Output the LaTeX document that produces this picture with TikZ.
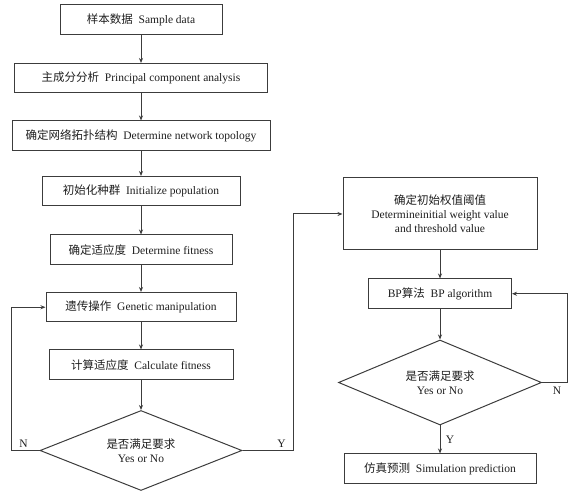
\documentclass[tikz,border=0pt]{standalone}
\usepackage{fontspec}
\setmainfont{Liberation Serif}
\newfontfamily\cjk{Noto Sans CJK SC}
\usetikzlibrary{arrows.meta, positioning, shapes.geometric}
\definecolor{cline}{HTML}{3C3C3C}
\definecolor{ctext}{HTML}{1E1E1E}
\newcommand{\zh}[1]{{\cjk #1}}
\tikzset{
  every picture/.style={font=\fontsize{11.5}{14}\selectfont, line width=1pt, text=ctext},
  box/.style={draw=cline, align=center, inner sep=3pt, minimum height=29.5pt, minimum width=#1},
  box/.default=180pt,
  check/.style={draw=cline, diamond, aspect=2.5, align=center, inner sep=0pt, minimum width=202pt, minimum height=80pt},
  arrow/.style={-{Stealth[length=5pt, width=4pt]}, draw=cline},
  lab/.style={font=\fontsize{11.5}{14}\selectfont},
}

\begin{document}
\begin{tikzpicture}
  \useasboundingbox (0,0) rectangle (582pt,-494pt);
  % left column
  \node[box=162pt] (sd) at (141pt,-19.75pt) {\zh{样本数据}\ \ Sample data};
  \node[box=253pt, below=28pt of sd] (pca) {\zh{主成分分析}\ \ Principal component analysis};
  \node[box=258pt, below=27pt of pca] (top) {\zh{确定网络拓扑结构}\ \ Determine network topology};
  \node[box=198pt, below=25pt of top] (ip) {\zh{初始化种群}\ \ Initialize population};
  \node[box=182pt, below=28pt of ip] (df) {\zh{确定适应度}\ \ Determine fitness};
  \node[box=190pt, below=27pt of df] (ga) {\zh{遗传操作}\ \ Genetic manipulation};
  \node[box=184pt, below=27pt of ga] (cf) {\zh{计算适应度}\ \ Calculate fitness};
  \node[check, below=30pt of cf] (ok1) {\zh{是否满足要求}\\Yes or No};
  % right column
  \node[box=194pt, minimum height=72pt] (iw) at (440pt,-214pt) {\zh{确定初始权值阈值}\\Determineinitial weight value\\and threshold value};
  \node[box=143pt, below=28pt of iw] (bp) {BP\zh{算法}\ \ BP algorithm};
  \node[check, minimum width=203pt, minimum height=85pt, below=30.5pt of bp] (ok2) {\zh{是否满足要求}\\Yes or No};
  \node[box=192pt, below=28pt of ok2] (sim) {\zh{仿真预测}\ \ Simulation prediction};

  \draw[arrow] (sd) -- (pca);
  \draw[arrow] (pca) -- (top);
  \draw[arrow] (top) -- (ip);
  \draw[arrow] (ip) -- (df);
  \draw[arrow] (df) -- (ga);
  \draw[arrow] (ga) -- (cf);
  \draw[arrow] (cf) -- (ok1);
  \draw[arrow] (ok1.west) -- ++(-28pt,0) node[lab, above right=-1pt and 4pt] {N} |- (ga.west);
  \draw[arrow] (ok1.east) -- ++(51pt,0) node[lab, above left=-1pt and 4pt] {Y} |- (iw.west);
  \draw[arrow] (iw) -- (bp);
  \draw[arrow] (bp) -- (ok2);
  \draw[arrow] (ok2.east) -- ++(25pt,0) node[lab, below left=1pt and 2pt] {N} |- (bp.east);
  \draw[arrow] (ok2) -- node[lab, right=2pt] {Y} (sim);
\end{tikzpicture}
\end{document}
